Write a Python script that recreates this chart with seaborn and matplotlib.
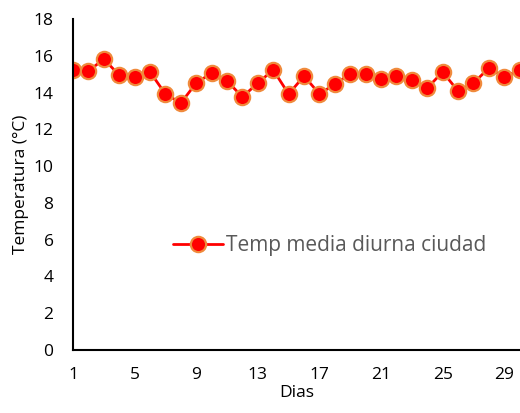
import matplotlib
matplotlib.use("Agg")
import matplotlib.pyplot as plt
import seaborn as sns
import pandas as pd

# Daily mean temperature values
dias = list(range(1, 31))
temperatura = [15.25, 15.17, 15.82, 14.95, 14.85, 15.12, 13.92, 13.43, 14.52, 15.06,
               14.63, 13.76, 14.52, 15.23, 13.92, 14.90, 13.92, 14.46, 15.01, 15.01,
               14.74, 14.90, 14.68, 14.25, 15.12, 14.08, 14.52, 15.33, 14.85, 15.23]
serie = "Temp media diurna ciudad"
x_ticks = [1, 5, 9, 13, 17, 21, 25, 29]
y_ticks = list(range(0, 19, 2))

df = pd.DataFrame({"Dias": dias, "Temp": temperatura})

sns.set_theme(style="white")
plt.rcParams["font.family"] = ["Open Sans", "DejaVu Sans"]

fig = plt.figure(figsize=(5.2, 4.13), dpi=100)
ax = fig.add_axes([0.1404, 0.1525, 0.859, 0.8015])

sns.lineplot(data=df, x="Dias", y="Temp", ax=ax, color="#ff0000", linewidth=2,
             marker="o", markersize=11, markerfacecolor="#ff0000",
             markeredgecolor="#f08a3c", markeredgewidth=1.6, label=serie)

ax.set_xlim(1, 30)
ax.set_ylim(0, 18)
ax.set_xticks(x_ticks)
ax.set_yticks(y_ticks)
ax.set_xlabel("Dias", fontsize=12.5, color="black", labelpad=2)
ax.set_ylabel("Temperatura (°C)", fontsize=12.5, color="black", labelpad=3)

for side in ["top", "right"]:
    ax.spines[side].set_visible(False)
for side in ["left", "bottom"]:
    ax.spines[side].set_color("black")
    ax.spines[side].set_linewidth(1.5)

ax.tick_params(axis="both", direction="out", length=5, width=1.5, color="black",
               labelsize=12.5, labelcolor="black")
ax.tick_params(axis="y", pad=9)
ax.tick_params(axis="x", pad=7)

leg = ax.legend(loc="center", bbox_to_anchor=(0.575, 0.315), frameon=False,
                fontsize=15, handlelength=2.4, handletextpad=0.15)
for t in leg.get_texts():
    t.set_color("#595959")

fig.savefig("out.png", dpi=100)
